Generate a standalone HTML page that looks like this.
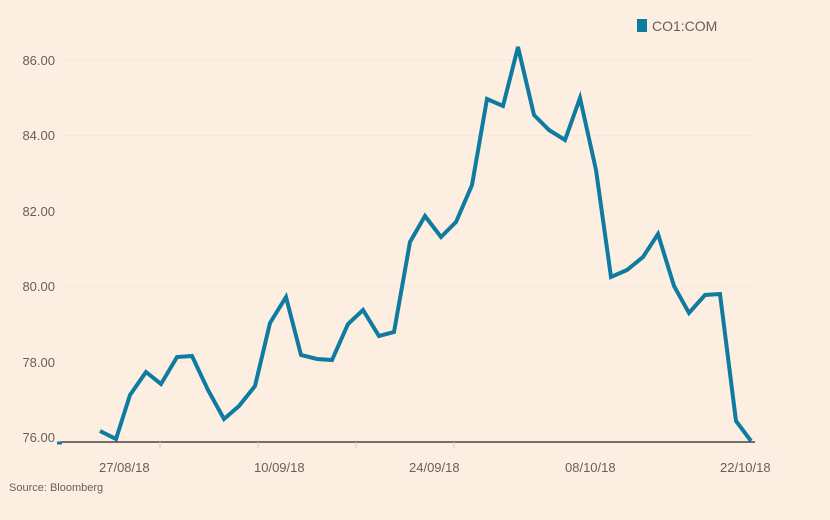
<!DOCTYPE html>
<html><head><style>
body{margin:0;background:#fcefe2;}
svg{display:block;font-family:"Liberation Sans",sans-serif;}
</style></head><body>
<svg width="830" height="520" xmlns="http://www.w3.org/2000/svg">
<rect width="830" height="520" fill="#fcefe2"/>
<g stroke="#e6d9cc" stroke-dasharray="1,3" stroke-width="1">
<line x1="65" x2="755" y1="60" y2="60"/><line x1="65" x2="755" y1="135.5" y2="135.5"/>
<line x1="65" x2="755" y1="211" y2="211"/><line x1="65" x2="755" y1="286.5" y2="286.5"/>
<line x1="65" x2="755" y1="362" y2="362"/><line x1="65" x2="755" y1="437" y2="437"/>
</g>
<g fill="#66605c" font-size="13" text-anchor="end">
<text x="55" y="65">86.00</text><text x="55" y="140">84.00</text><text x="55" y="216">82.00</text>
<text x="55" y="291">80.00</text><text x="55" y="367">78.00</text><text x="55" y="442">76.00</text>
</g>
<line x1="60" x2="755" y1="442" y2="442" stroke="#222" stroke-width="1.2"/>
<line x1="57" x2="62" y1="443" y2="443" stroke="#0f7ba0" stroke-width="3"/>
<g stroke="#ccc" stroke-width="1"><line x1="160" x2="160" y1="442" y2="448"/><line x1="258" x2="258" y1="442" y2="448"/><line x1="356" x2="356" y1="442" y2="448"/><line x1="454" x2="454" y1="442" y2="448"/></g>
<g fill="#66605c" font-size="13">
<text x="99" y="472">27/08/18</text><text x="254" y="472">10/09/18</text><text x="409" y="472">24/09/18</text>
<text x="565" y="472">08/10/18</text><text x="720" y="472">22/10/18</text>
</g>
<text x="9" y="491" fill="#66605c" font-size="11">Source: Bloomberg</text>
<rect x="637" y="19" width="10" height="13" fill="#0f7ba0"/>
<text x="652" y="31" fill="#66605c" font-size="14">CO1:COM</text>
<polyline fill="none" stroke="#0f7ba0" stroke-width="4" stroke-linejoin="miter" points="100,431 116,439 130,395 146,372 161,384 177,357 192,356 208,390 224,419 239,406 255,386 270,323 286,297 301,355 317,359 332,360 348,324 363,310 379,336 394,332 410,242 425,216 441,237 456,222 472,185 487,99 503,106 518,47 534,115 549,130 565,140 580,98 596,170 611,277 627,270 643,257 658,234 674,286 689,313 705,295 720,294 736,421 751,441"/>
</svg>
</body></html>
